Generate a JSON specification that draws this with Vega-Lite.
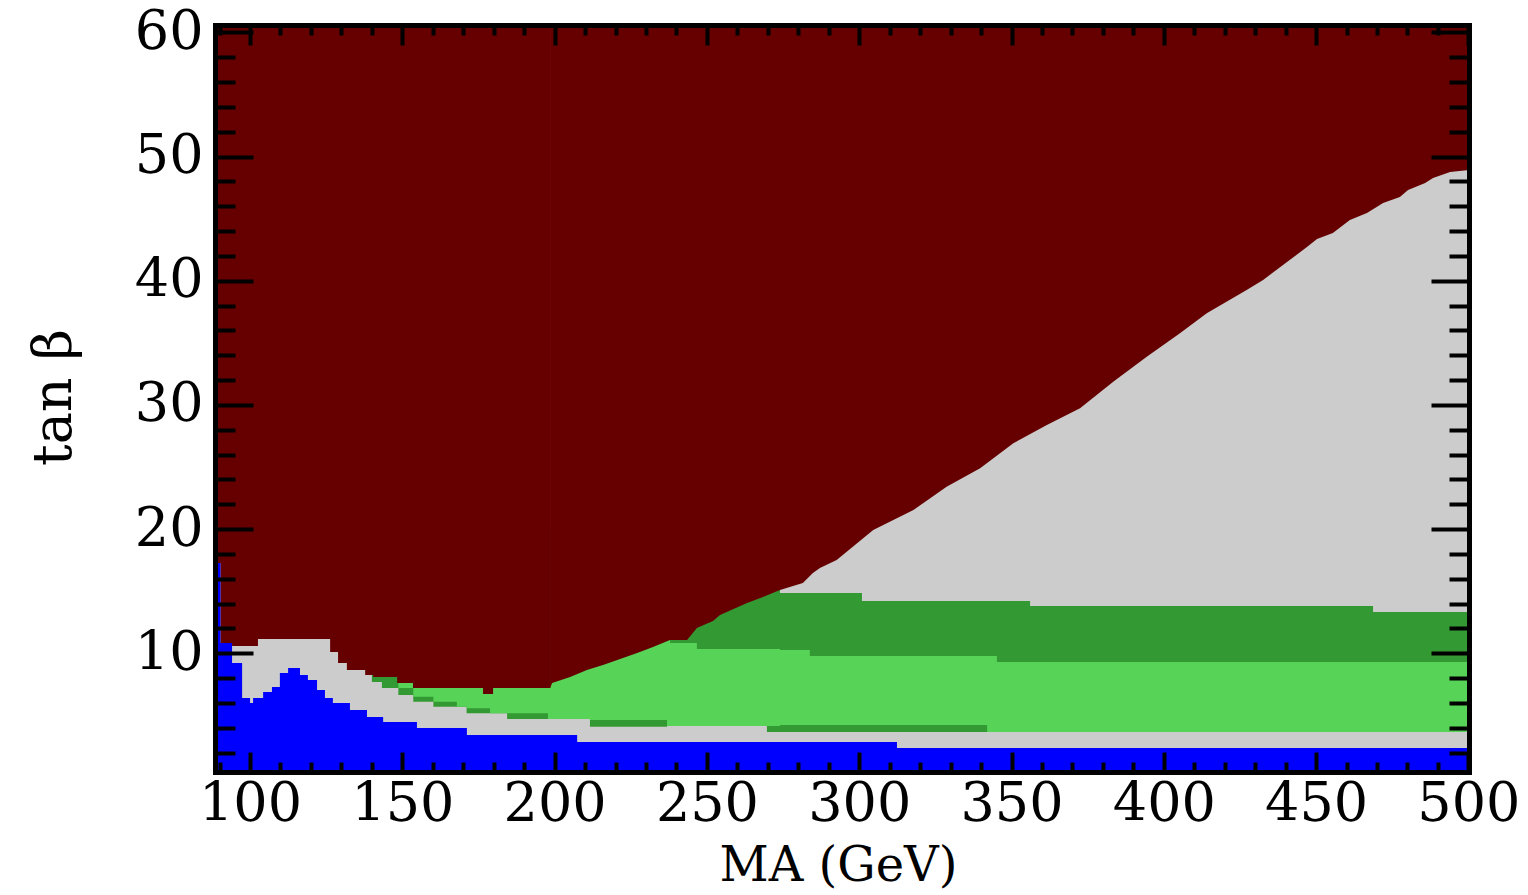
{
  "$schema": "https://vega.github.io/schema/vega-lite/v6.json",
  "width": 1254,
  "height": 747,
  "autosize": "none",
  "padding": {"left": 215, "top": 25, "right": 59, "bottom": 123},
  "background": "white",
  "config": {"view": {"fill": "#cccccc", "stroke": null}, "axis": {"grid": false}},
  "resolve": {"axis": {"x": "independent", "y": "independent"}},
  "datasets": {
    "dgreen": [
      {"x": 140.0, "lo": 7.69, "hi": 20}, {"x": 143.3, "lo": 7.20, "hi": 20}, {"x": 148.7, "lo": 6.64, "hi": 20},
      {"x": 153.6, "lo": 6.10, "hi": 20}, {"x": 160.2, "lo": 5.70, "hi": 20}, {"x": 171.1, "lo": 5.17, "hi": 20},
      {"x": 184.4, "lo": 4.71, "hi": 20}, {"x": 211.6, "lo": 4.09, "hi": 20}, {"x": 236.9, "lo": 4.14, "hi": 20},
      {"x": 269.7, "lo": 3.66, "hi": 20}, {"x": 274.0, "lo": 3.66, "hi": 14.85}, {"x": 300.9, "lo": 3.66, "hi": 14.21},
      {"x": 356.1, "lo": 3.66, "hi": 13.81}, {"x": 468.7, "lo": 3.66, "hi": 13.32}, {"x": 500.2, "lo": 3.66, "hi": 13.32}
    ],
    "lgreen": [
      {"x": 148.7, "lo": 7.20, "hi": 20}, {"x": 153.6, "lo": 6.50, "hi": 20}, {"x": 160.2, "lo": 6.10, "hi": 20},
      {"x": 167.9, "lo": 5.70, "hi": 20}, {"x": 171.1, "lo": 5.57, "hi": 20}, {"x": 178.8, "lo": 5.17, "hi": 20},
      {"x": 197.8, "lo": 4.71, "hi": 20}, {"x": 211.6, "lo": 4.63, "hi": 20}, {"x": 236.9, "lo": 4.14, "hi": 20},
      {"x": 237.9, "lo": 4.14, "hi": 10.83}, {"x": 246.7, "lo": 4.14, "hi": 10.35}, {"x": 269.7, "lo": 4.14, "hi": 10.35},
      {"x": 274.0, "lo": 4.22, "hi": 10.26}, {"x": 283.8, "lo": 4.22, "hi": 9.78}, {"x": 342.0, "lo": 3.66, "hi": 9.78},
      {"x": 345.2, "lo": 3.66, "hi": 9.30}, {"x": 500.2, "lo": 3.66, "hi": 9.30}
    ],
    "redleft": [
      {"x": 88.5, "lo": 17.27, "hi": 60.6}, {"x": 90.3, "lo": 10.83, "hi": 60.6}, {"x": 94.1, "lo": 10.59, "hi": 60.6},
      {"x": 102.6, "lo": 11.15, "hi": 60.6}, {"x": 126.3, "lo": 10.10, "hi": 60.6}, {"x": 128.9, "lo": 9.22, "hi": 60.6},
      {"x": 131.8, "lo": 8.65, "hi": 60.6}, {"x": 137.8, "lo": 8.25, "hi": 60.6}, {"x": 140.4, "lo": 8.09, "hi": 60.6},
      {"x": 148.3, "lo": 7.61, "hi": 60.6}, {"x": 153.5, "lo": 7.20, "hi": 60.6}, {"x": 176.5, "lo": 6.72, "hi": 60.6},
      {"x": 179.8, "lo": 7.20, "hi": 60.6}, {"x": 198.6, "lo": 7.20, "hi": 60.6}
    ],
    "redright": [
      {"x": 198.5, "lo": 7.20, "hi": 60.6}, {"x": 199.2, "lo": 7.61, "hi": 60.6}, {"x": 205.1, "lo": 8.09, "hi": 60.6},
      {"x": 210.6, "lo": 8.65, "hi": 60.6}, {"x": 215.9, "lo": 9.06, "hi": 60.6}, {"x": 221.5, "lo": 9.54, "hi": 60.6},
      {"x": 227.1, "lo": 10.02, "hi": 60.6}, {"x": 232.3, "lo": 10.51, "hi": 60.6}, {"x": 237.9, "lo": 11.07, "hi": 60.6},
      {"x": 243.5, "lo": 11.07, "hi": 60.6}, {"x": 246.7, "lo": 12.04, "hi": 60.6}, {"x": 252.0, "lo": 12.6, "hi": 60.6},
      {"x": 254.3, "lo": 13.08, "hi": 60.6}, {"x": 263.2, "lo": 14.05, "hi": 60.6}, {"x": 268.4, "lo": 14.53, "hi": 60.6},
      {"x": 274.0, "lo": 15.1, "hi": 60.6}, {"x": 281.5, "lo": 15.66, "hi": 60.6}, {"x": 284.8, "lo": 16.47, "hi": 60.6},
      {"x": 287.1, "lo": 16.87, "hi": 60.6}, {"x": 292.6, "lo": 17.51, "hi": 60.6}, {"x": 304.6, "lo": 19.93, "hi": 60.6},
      {"x": 317.8, "lo": 21.54, "hi": 60.6}, {"x": 328.7, "lo": 23.42, "hi": 60.6}, {"x": 339.7, "lo": 24.9, "hi": 60.6},
      {"x": 350.6, "lo": 26.91, "hi": 60.6}, {"x": 361.6, "lo": 28.38, "hi": 60.6}, {"x": 372.5, "lo": 29.73, "hi": 60.6},
      {"x": 383.4, "lo": 31.87, "hi": 60.6}, {"x": 394.4, "lo": 33.89, "hi": 60.6}, {"x": 405.3, "lo": 35.77, "hi": 60.6},
      {"x": 414.1, "lo": 37.38, "hi": 60.6}, {"x": 427.2, "lo": 39.26, "hi": 60.6}, {"x": 432.6, "lo": 40.06, "hi": 60.6},
      {"x": 447.0, "lo": 42.72, "hi": 60.6}, {"x": 450.3, "lo": 43.36, "hi": 60.6}, {"x": 455.5, "lo": 43.85, "hi": 60.6},
      {"x": 461.1, "lo": 44.89, "hi": 60.6}, {"x": 466.7, "lo": 45.46, "hi": 60.6}, {"x": 472.0, "lo": 46.26, "hi": 60.6},
      {"x": 477.5, "lo": 46.75, "hi": 60.6}, {"x": 480.2, "lo": 47.31, "hi": 60.6}, {"x": 485.8, "lo": 47.87, "hi": 60.6},
      {"x": 488.4, "lo": 48.28, "hi": 60.6}, {"x": 494.0, "lo": 48.76, "hi": 60.6}, {"x": 500.2, "lo": 48.92, "hi": 60.6}
    ],
    "blue": [
      {"x": 88.5, "lo": 0.44, "hi": 17.27}, {"x": 90.3, "lo": 0.44, "hi": 10.83}, {"x": 94.1, "lo": 0.44, "hi": 9.22},
      {"x": 97.4, "lo": 0.44, "hi": 6.40}, {"x": 100.0, "lo": 0.44, "hi": 6.0}, {"x": 101.0, "lo": 0.44, "hi": 6.40},
      {"x": 104.3, "lo": 0.44, "hi": 6.88}, {"x": 107.2, "lo": 0.44, "hi": 7.28}, {"x": 109.8, "lo": 0.44, "hi": 8.41},
      {"x": 112.5, "lo": 0.44, "hi": 8.82}, {"x": 116.4, "lo": 0.44, "hi": 8.25}, {"x": 119.0, "lo": 0.44, "hi": 7.85},
      {"x": 122.0, "lo": 0.44, "hi": 7.04}, {"x": 124.6, "lo": 0.44, "hi": 6.40}, {"x": 127.2, "lo": 0.44, "hi": 6.0},
      {"x": 132.8, "lo": 0.44, "hi": 5.43}, {"x": 138.4, "lo": 0.44, "hi": 4.87}, {"x": 143.7, "lo": 0.44, "hi": 4.47},
      {"x": 154.8, "lo": 0.44, "hi": 3.98}, {"x": 171.2, "lo": 0.44, "hi": 3.42}, {"x": 207.4, "lo": 0.44, "hi": 2.85},
      {"x": 312.4, "lo": 0.44, "hi": 2.37}, {"x": 500.2, "lo": 0.44, "hi": 2.37}
    ]
  },
  "layer": [
    {
      "data": {"name": "dgreen"},
      "mark": {"type": "area", "interpolate": "step-after", "color": "#339933", "clip": true},
      "encoding": {
        "x": {"field": "x", "type": "quantitative", "scale": {"domain": [88.5, 500.2], "nice": false, "zero": false},
          "axis": {"orient": "bottom", "values": [100, 150, 200, 250, 300, 350, 400, 450, 500], "ticks": false, "domain": false,
            "labelFont": "DejaVu Serif", "labelFontSize": 54, "labelColor": "black", "labelPadding": 5, "labelFlush": false, "labelOverlap": false,
            "title": "MA (GeV)", "titleFont": "DejaVu Serif", "titleFontSize": 48, "titleFontWeight": "normal", "titleColor": "black",
            "titleX": 623, "titleY": 108, "titleBaseline": "alphabetic", "titleAlign": "center", "zindex": 1}},
        "y": {"field": "lo", "type": "quantitative", "scale": {"domain": [0.44, 60.6], "nice": false, "zero": false},
          "axis": {"orient": "left", "values": [10, 20, 30, 40, 50, 60], "ticks": false, "domain": false,
            "labelFont": "DejaVu Serif", "labelFontSize": 54, "labelColor": "black", "labelPadding": 12, "labelFlush": false, "labelOverlap": false,
            "title": "tan β", "titleFont": "DejaVu Serif", "titleFontSize": 54, "titleFontWeight": "normal", "titleColor": "black",
            "titleX": -145, "titleY": 372, "titleAngle": -90, "titleBaseline": "alphabetic", "titleAlign": "center", "zindex": 1}},
        "y2": {"field": "hi"}
      }
    },
    {
      "data": {"name": "lgreen"},
      "mark": {"type": "area", "interpolate": "step-after", "color": "#57d457", "clip": true},
      "encoding": {
        "x": {"field": "x", "type": "quantitative", "scale": {"domain": [88.5, 500.2], "nice": false, "zero": false},
          "axis": {"orient": "bottom", "values": [100, 150, 200, 250, 300, 350, 400, 450, 500], "labels": false, "title": null,
            "tickSize": -20, "tickWidth": 4, "tickColor": "black", "domain": true, "domainWidth": 5, "domainColor": "black", "domainCap": "square", "zindex": 1}},
        "y": {"field": "lo", "type": "quantitative", "scale": {"domain": [0.44, 60.6], "nice": false, "zero": false},
          "axis": {"orient": "left", "values": [10, 20, 30, 40, 50, 60], "labels": false, "title": null,
            "tickSize": -38, "tickWidth": 4, "tickColor": "black", "domain": true, "domainWidth": 5, "domainColor": "black", "domainCap": "square", "zindex": 1}},
        "y2": {"field": "hi"}
      }
    },
    {
      "data": {"name": "redleft"},
      "mark": {"type": "area", "interpolate": "step-after", "color": "#660000", "clip": true},
      "encoding": {
        "x": {"field": "x", "type": "quantitative", "scale": {"domain": [88.5, 500.2], "nice": false, "zero": false},
          "axis": {"orient": "bottom", "values": [90, 110, 120, 130, 140, 160, 170, 180, 190, 210, 220, 230, 240, 260, 270, 280, 290, 310, 320, 330, 340, 360, 370, 380, 390, 410, 420, 430, 440, 460, 470, 480, 490],
            "labels": false, "title": null, "domain": false, "tickSize": -10, "tickWidth": 4, "tickColor": "black", "zindex": 1}},
        "y": {"field": "lo", "type": "quantitative", "scale": {"domain": [0.44, 60.6], "nice": false, "zero": false},
          "axis": {"orient": "left", "values": [2, 4, 6, 8, 12, 14, 16, 18, 22, 24, 26, 28, 32, 34, 36, 38, 42, 44, 46, 48, 52, 54, 56, 58],
            "labels": false, "title": null, "domain": false, "tickSize": -20, "tickWidth": 4, "tickColor": "black", "zindex": 1}},
        "y2": {"field": "hi"}
      }
    },
    {
      "data": {"name": "redright"},
      "mark": {"type": "area", "interpolate": "linear", "color": "#660000", "clip": true},
      "encoding": {
        "x": {"field": "x", "type": "quantitative", "scale": {"domain": [88.5, 500.2], "nice": false, "zero": false},
          "axis": {"orient": "top", "values": [100, 150, 200, 250, 300, 350, 400, 450, 500], "labels": false, "title": null,
            "tickSize": -20, "tickWidth": 4, "tickColor": "black", "domain": true, "domainWidth": 5, "domainColor": "black", "domainCap": "square", "zindex": 1}},
        "y": {"field": "lo", "type": "quantitative", "scale": {"domain": [0.44, 60.6], "nice": false, "zero": false},
          "axis": {"orient": "right", "values": [10, 20, 30, 40, 50, 60], "labels": false, "title": null,
            "tickSize": -38, "tickWidth": 4, "tickColor": "black", "domain": true, "domainWidth": 5, "domainColor": "black", "domainCap": "square", "zindex": 1}},
        "y2": {"field": "hi"}
      }
    },
    {
      "data": {"name": "blue"},
      "mark": {"type": "area", "interpolate": "step-after", "color": "#0000ff", "clip": true},
      "encoding": {
        "x": {"field": "x", "type": "quantitative", "scale": {"domain": [88.5, 500.2], "nice": false, "zero": false},
          "axis": {"orient": "top", "values": [90, 110, 120, 130, 140, 160, 170, 180, 190, 210, 220, 230, 240, 260, 270, 280, 290, 310, 320, 330, 340, 360, 370, 380, 390, 410, 420, 430, 440, 460, 470, 480, 490],
            "labels": false, "title": null, "domain": false, "tickSize": -10, "tickWidth": 4, "tickColor": "black", "zindex": 1}},
        "y": {"field": "lo", "type": "quantitative", "scale": {"domain": [0.44, 60.6], "nice": false, "zero": false},
          "axis": {"orient": "right", "values": [2, 4, 6, 8, 12, 14, 16, 18, 22, 24, 26, 28, 32, 34, 36, 38, 42, 44, 46, 48, 52, 54, 56, 58],
            "labels": false, "title": null, "domain": false, "tickSize": -20, "tickWidth": 4, "tickColor": "black", "zindex": 1}},
        "y2": {"field": "hi"}
      }
    }
  ]
}
